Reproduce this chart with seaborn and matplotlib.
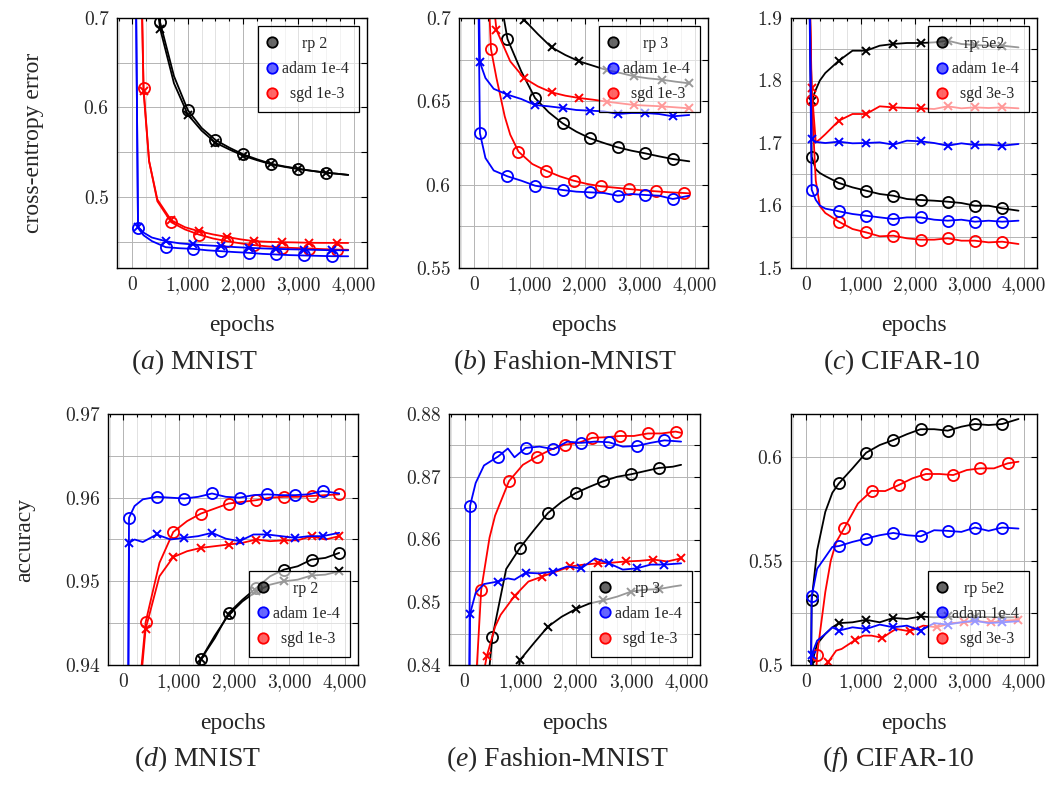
import matplotlib
matplotlib.use('Agg')
import matplotlib.pyplot as plt
from matplotlib.lines import Line2D
from matplotlib.colors import to_rgba
from matplotlib.ticker import MultipleLocator
import seaborn as sns

# circles = training curve, crosses = test curve (one pair per optimiser)

# ---- (a) MNIST, cross-entropy error
a_rp_ep = [420, 500, 750, 1000, 1250, 1500, 1750, 2000, 2250, 2500, 2750, 3000, 3250, 3500, 3750, 3900]
a_rp_o = [0.73, 0.695, 0.635, 0.597, 0.577, 0.5636, 0.555, 0.5475, 0.542, 0.537, 0.534, 0.5314, 0.529, 0.527, 0.5255, 0.5245]
a_rp_x = [0.725, 0.688, 0.627, 0.592, 0.574, 0.5605, 0.553, 0.546, 0.541, 0.5365, 0.5335, 0.531, 0.529, 0.527, 0.5255, 0.5245]
a_adam_ep = [60, 100, 200, 350, 600, 850, 1100, 1350, 1600, 1850, 2100, 2350, 2600, 2850, 3100, 3350, 3600, 3900]
a_adam_o = [0.75, 0.4652, 0.457, 0.4505, 0.4437, 0.4425, 0.4418, 0.4402, 0.4392, 0.4382, 0.4374, 0.4362, 0.4355, 0.4348, 0.4344, 0.434, 0.4336, 0.4335]
a_adam_x = [0.75, 0.466, 0.46, 0.4545, 0.4504, 0.448, 0.4467, 0.4457, 0.4448, 0.4438, 0.443, 0.4423, 0.4418, 0.4413, 0.441, 0.4406, 0.4403, 0.4402]
a_sgd_ep = [150, 200, 300, 450, 700, 950, 1200, 1450, 1700, 1950, 2200, 2450, 2700, 2950, 3200, 3450, 3700, 3900]
a_sgd_o = [0.78, 0.622, 0.54, 0.495, 0.4716, 0.4635, 0.4578, 0.4535, 0.4504, 0.448, 0.446, 0.4445, 0.4433, 0.4427, 0.4422, 0.4415, 0.441, 0.4408]
a_sgd_x = [0.78, 0.618, 0.54, 0.497, 0.4738, 0.466, 0.4615, 0.458, 0.4552, 0.4525, 0.4504, 0.4497, 0.4493, 0.449, 0.4486, 0.4485, 0.4485, 0.4484]

# ---- (b) Fashion-MNIST, cross-entropy error
b_rp_o_ep = [480, 600, 850, 1100, 1350, 1600, 1850, 2100, 2350, 2600, 2850, 3100, 3350, 3600, 3900]
b_rp_o = [0.71, 0.6874, 0.668, 0.652, 0.6434, 0.6368, 0.6318, 0.6278, 0.625, 0.6224, 0.6204, 0.6188, 0.617, 0.6154, 0.614]
b_rp_x_ep = [800, 900, 1150, 1400, 1650, 1900, 2150, 2400, 2650, 2900, 3150, 3400, 3650, 3900]
b_rp_x = [0.71, 0.699, 0.6904, 0.6824, 0.6778, 0.674, 0.6714, 0.6688, 0.667, 0.665, 0.6638, 0.663, 0.6618, 0.6608]
b_adam_ep = [60, 100, 200, 350, 600, 850, 1100, 1350, 1600, 1850, 2100, 2350, 2600, 2850, 3100, 3350, 3600, 3900]
b_adam_o = [0.75, 0.6308, 0.616, 0.6085, 0.605, 0.6024, 0.5994, 0.598, 0.5968, 0.5958, 0.5954, 0.595, 0.5934, 0.5944, 0.5938, 0.5934, 0.5914, 0.5934]
b_adam_x = [0.76, 0.6734, 0.664, 0.6575, 0.654, 0.6514, 0.6478, 0.647, 0.646, 0.6448, 0.6444, 0.644, 0.6424, 0.643, 0.643, 0.6424, 0.641, 0.6418]
b_sgd_o_ep = [250, 300, 400, 550, 650, 800, 1050, 1300, 1550, 1800, 2050, 2300, 2550, 2800, 3050, 3300, 3550, 3800, 3900]
b_sgd_o = [0.72, 0.6814, 0.664, 0.641, 0.63, 0.6198, 0.6124, 0.6084, 0.605, 0.6024, 0.6004, 0.599, 0.5982, 0.5974, 0.5966, 0.596, 0.5954, 0.595, 0.5948]
b_sgd_x_ep = [330, 400, 650, 900, 1150, 1400, 1650, 1900, 2150, 2400, 2650, 2900, 3150, 3400, 3650, 3900]
b_sgd_x = [0.715, 0.6928, 0.674, 0.664, 0.659, 0.6554, 0.6534, 0.652, 0.651, 0.6498, 0.6488, 0.6478, 0.6474, 0.647, 0.6464, 0.6458]

# ---- (c) CIFAR-10, cross-entropy error
c_ep = [50, 100, 175, 250, 350, 600, 850, 1100, 1350, 1600, 1850, 2100, 2350, 2600, 2850, 3100, 3350, 3600, 3900]
c_rp_o = [2.0, 1.678, 1.658, 1.652, 1.647, 1.636, 1.629, 1.6237, 1.6184, 1.6157, 1.6104, 1.6088, 1.6077, 1.6061, 1.604, 1.5997, 1.5997, 1.5955, 1.5917]
c_rp_x = [2.0, 1.768, 1.785, 1.80, 1.812, 1.8317, 1.8477, 1.8477, 1.8557, 1.8584, 1.86, 1.86, 1.861, 1.8637, 1.8584, 1.8568, 1.8557, 1.8557, 1.853]
c_adam_o = [2.0, 1.6253, 1.609, 1.60, 1.595, 1.5907, 1.5864, 1.5837, 1.581, 1.5784, 1.581, 1.581, 1.5773, 1.5757, 1.5773, 1.5741, 1.5757, 1.5741, 1.5757]
c_adam_x = [2.0, 1.7064, 1.702, 1.701, 1.70, 1.7021, 1.6995, 1.70, 1.701, 1.6973, 1.7037, 1.7027, 1.70, 1.6957, 1.6995, 1.6968, 1.6973, 1.6957, 1.6984]
c_sgd_o = [2.0, 1.7688, 1.64, 1.599, 1.588, 1.5741, 1.5624, 1.557, 1.5507, 1.5517, 1.5475, 1.5453, 1.5453, 1.5475, 1.5437, 1.5437, 1.541, 1.5421, 1.5384]
c_sgd_x = [2.0, 1.7875, 1.701, 1.706, 1.714, 1.7357, 1.7464, 1.7464, 1.7587, 1.757, 1.756, 1.7555, 1.7544, 1.7587, 1.7555, 1.757, 1.756, 1.757, 1.7555]

# ---- (d) MNIST, accuracy
d_rp_ep = [1350, 1400, 1650, 1900, 2150, 2400, 2650, 2900, 3150, 3400, 3650, 3900]
d_rp_o = [0.9395, 0.9407, 0.9432, 0.9462, 0.9478, 0.9492, 0.9506, 0.9514, 0.9518, 0.9526, 0.9528, 0.9534]
d_rp_x = [0.9395, 0.9407, 0.9435, 0.946, 0.9476, 0.9488, 0.9496, 0.95, 0.9502, 0.9507, 0.9508, 0.9512]
d_adam_ep = [85, 100, 200, 350, 600, 850, 1100, 1350, 1600, 1850, 2100, 2350, 2600, 2850, 3100, 3350, 3600, 3900]
d_adam_o = [0.935, 0.9576, 0.959, 0.9598, 0.9601, 0.96, 0.9599, 0.9601, 0.9605, 0.9601, 0.96, 0.9603, 0.9604, 0.9603, 0.9603, 0.9604, 0.9608, 0.9605]
d_adam_x = [0.935, 0.9546, 0.955, 0.9547, 0.9556, 0.955, 0.9552, 0.9554, 0.9558, 0.9551, 0.9548, 0.9556, 0.9556, 0.9554, 0.9552, 0.9554, 0.9554, 0.9558]
d_sgd_ep = [300, 400, 650, 900, 1150, 1400, 1650, 1900, 2150, 2400, 2650, 2900, 3150, 3400, 3650, 3900]
d_sgd_o = [0.938, 0.9451, 0.9522, 0.9559, 0.9572, 0.9581, 0.9587, 0.9593, 0.9595, 0.9597, 0.96, 0.9601, 0.9601, 0.9602, 0.9603, 0.9604]
d_sgd_x = [0.937, 0.9443, 0.9506, 0.9529, 0.9536, 0.954, 0.9542, 0.9544, 0.9546, 0.955, 0.9548, 0.9549, 0.9549, 0.9554, 0.955, 0.9554]

# ---- (e) Fashion-MNIST, accuracy
e_rp_o_ep = [430, 500, 750, 1000, 1250, 1500, 1750, 2000, 2250, 2500, 2750, 3000, 3250, 3500, 3750, 3900]
e_rp_o = [0.838, 0.8444, 0.8553, 0.8587, 0.8615, 0.8642, 0.866, 0.8674, 0.8684, 0.8693, 0.87, 0.8704, 0.8709, 0.8714, 0.8716, 0.8719]
e_rp_x_ep = [960, 1000, 1250, 1500, 1750, 2000, 2250, 2500, 2750, 3000, 3250, 3500, 3750, 3900]
e_rp_x = [0.839, 0.8408, 0.8435, 0.8461, 0.8477, 0.8489, 0.8498, 0.8503, 0.8509, 0.8517, 0.852, 0.8521, 0.8525, 0.8527]
e_adam_ep = [85, 100, 200, 350, 600, 780, 900, 1100, 1350, 1600, 1850, 2100, 2350, 2600, 2850, 3100, 3350, 3600, 3900]
e_adam_o = [0.835, 0.8654, 0.869, 0.8718, 0.8732, 0.8745, 0.8731, 0.8746, 0.8748, 0.8744, 0.8756, 0.8754, 0.8756, 0.8755, 0.8748, 0.8749, 0.8754, 0.8758, 0.8756]
e_adam_x = [0.835, 0.8482, 0.8515, 0.8529, 0.8533, 0.8538, 0.8536, 0.8547, 0.8546, 0.8549, 0.8557, 0.8554, 0.857, 0.8562, 0.8552, 0.8554, 0.856, 0.856, 0.8562]
e_sgd_o_ep = [210, 300, 450, 550, 800, 1050, 1300, 1550, 1800, 2050, 2300, 2550, 2800, 3050, 3300, 3550, 3800, 3900]
e_sgd_o = [0.838, 0.852, 0.8603, 0.8638, 0.8693, 0.8719, 0.8732, 0.8743, 0.8751, 0.8754, 0.8762, 0.8763, 0.8765, 0.8765, 0.8769, 0.8769, 0.8772, 0.877]
e_sgd_x_ep = [340, 400, 550, 650, 900, 1150, 1400, 1650, 1900, 2150, 2400, 2650, 2900, 3150, 3400, 3650, 3900]
e_sgd_x = [0.8385, 0.8414, 0.8461, 0.848, 0.851, 0.8533, 0.8541, 0.8549, 0.8557, 0.856, 0.8562, 0.8563, 0.8565, 0.8566, 0.8568, 0.8565, 0.857]

# ---- (f) CIFAR-10, accuracy
f_ep = [85, 100, 200, 350, 480, 600, 850, 1100, 1350, 1600, 1850, 2100, 2350, 2600, 2850, 3100, 3350, 3600, 3900]
f_rp_o = [0.49, 0.5313, 0.555, 0.5735, 0.5827, 0.5872, 0.5944, 0.6019, 0.6056, 0.608, 0.6108, 0.6132, 0.6132, 0.6125, 0.6144, 0.6157, 0.6152, 0.6157, 0.6181]
f_rp_x = [0.49, 0.5005, 0.5101, 0.5149, 0.5181, 0.5201, 0.5205, 0.5217, 0.5205, 0.5226, 0.5221, 0.5233, 0.5229, 0.5233, 0.5229, 0.5231, 0.523, 0.5229, 0.5229]
f_adam_o = [0.49, 0.5329, 0.5462, 0.5518, 0.5567, 0.5571, 0.5591, 0.5607, 0.5623, 0.5634, 0.5623, 0.5618, 0.5647, 0.5644, 0.5639, 0.566, 0.5644, 0.566, 0.5655]
f_adam_x = [0.49, 0.505, 0.5117, 0.5149, 0.5181, 0.5165, 0.5181, 0.5173, 0.5194, 0.5181, 0.5189, 0.5165, 0.5201, 0.5194, 0.5205, 0.5213, 0.5201, 0.5205, 0.521]
f_sgd_o_ep = [170, 200, 350, 450, 550, 700, 950, 1200, 1450, 1700, 1950, 2200, 2450, 2700, 2950, 3200, 3450, 3700, 3900]
f_sgd_o = [0.49, 0.505, 0.535, 0.55, 0.559, 0.5658, 0.5775, 0.5836, 0.5835, 0.5864, 0.5896, 0.5917, 0.5917, 0.5912, 0.5936, 0.5944, 0.5944, 0.5968, 0.5976]
f_sgd_x_ep = [350, 400, 550, 650, 900, 1050, 1200, 1400, 1550, 1650, 1900, 2150, 2400, 2650, 2900, 3150, 3400, 3650, 3900]
f_sgd_x = [0.497, 0.5013, 0.5069, 0.5077, 0.512, 0.5141, 0.5141, 0.513, 0.5157, 0.5173, 0.5162, 0.5189, 0.5181, 0.5201, 0.5205, 0.521, 0.5205, 0.5213, 0.5217]

x_ticklabels = ['0', '1,000', '2,000', '3,000', '4,000']
a_yticklabels = ['0.5', '0.6', '0.7']
b_yticklabels = ['0.55', '0.6', '0.65', '0.7']
c_yticklabels = ['1.5', '1.6', '1.7', '1.8', '1.9']
d_yticklabels = ['0.94', '0.95', '0.96', '0.97']
e_yticklabels = ['0.84', '0.85', '0.86', '0.87', '0.88']
f_yticklabels = ['0.5', '0.55', '0.6']

captions = ['MNIST', 'Fashion-MNIST', 'CIFAR-10', 'MNIST', 'Fashion-MNIST', 'CIFAR-10']
letters = ['a', 'b', 'c', 'd', 'e', 'f']
legend_labels = [
    ['rp 2', 'adam 1e-4', 'sgd 1e-3'],
    ['rp 3', 'adam 1e-4', 'sgd 1e-3'],
    ['rp 5e2', 'adam 1e-4', 'sgd 3e-3'],
    ['rp 2', 'adam 1e-4', 'sgd 1e-3'],
    ['rp 3', 'adam 1e-4', 'sgd 1e-3'],
    ['rp 5e2', 'adam 1e-4', 'sgd 3e-3'],
]

COL = {'rp': 'black', 'adam': 'blue', 'sgd': 'red'}

# (epochs, values, optimiser, marker, marker phase mod 500)
panels = [
    dict(series=[(a_rp_ep, a_rp_x, 'rp', 'x', 0), (a_rp_ep, a_rp_o, 'rp', 'o', 0),
                 (a_sgd_ep, a_sgd_x, 'sgd', 'x', 200), (a_sgd_ep, a_sgd_o, 'sgd', 'o', 200),
                 (a_adam_ep, a_adam_x, 'adam', 'x', 100), (a_adam_ep, a_adam_o, 'adam', 'o', 100)],
         ylim=(0.4204, 0.7), ylab=a_yticklabels, step=0.05, loc='upper right'),
    dict(series=[(b_rp_x_ep, b_rp_x, 'rp', 'x', 400), (b_rp_o_ep, b_rp_o, 'rp', 'o', 100),
                 (b_sgd_x_ep, b_sgd_x, 'sgd', 'x', 400), (b_sgd_o_ep, b_sgd_o, 'sgd', 'o', 300),
                 (b_adam_ep, b_adam_x, 'adam', 'x', 100), (b_adam_ep, b_adam_o, 'adam', 'o', 100)],
         ylim=(0.55, 0.7), ylab=b_yticklabels, step=0.025, loc='upper right'),
    dict(series=[(c_ep, c_rp_x, 'rp', 'x', 100), (c_ep, c_rp_o, 'rp', 'o', 100),
                 (c_ep, c_sgd_x, 'sgd', 'x', 100), (c_ep, c_sgd_o, 'sgd', 'o', 100),
                 (c_ep, c_adam_x, 'adam', 'x', 100), (c_ep, c_adam_o, 'adam', 'o', 100)],
         ylim=(1.5, 1.9), ylab=c_yticklabels, step=0.05, loc='upper right'),
    dict(series=[(d_rp_ep, d_rp_x, 'rp', 'x', 400), (d_rp_ep, d_rp_o, 'rp', 'o', 400),
                 (d_sgd_ep, d_sgd_x, 'sgd', 'x', 400), (d_sgd_ep, d_sgd_o, 'sgd', 'o', 400),
                 (d_adam_ep, d_adam_x, 'adam', 'x', 100), (d_adam_ep, d_adam_o, 'adam', 'o', 100)],
         ylim=(0.94, 0.97), ylab=d_yticklabels, step=0.005, loc='lower right'),
    dict(series=[(e_rp_x_ep, e_rp_x, 'rp', 'x', 0), (e_rp_o_ep, e_rp_o, 'rp', 'o', 0),
                 (e_sgd_x_ep, e_sgd_x, 'sgd', 'x', 400), (e_sgd_o_ep, e_sgd_o, 'sgd', 'o', 300),
                 (e_adam_ep, e_adam_x, 'adam', 'x', 100), (e_adam_ep, e_adam_o, 'adam', 'o', 100)],
         ylim=(0.84, 0.88), ylab=e_yticklabels, step=0.005, loc='lower right'),
    dict(series=[(f_ep, f_rp_x, 'rp', 'x', 100), (f_ep, f_rp_o, 'rp', 'o', 100),
                 (f_sgd_x_ep, f_sgd_x, 'sgd', 'x', 400), (f_sgd_o_ep, f_sgd_o, 'sgd', 'o', 200),
                 (f_ep, f_adam_x, 'adam', 'x', 100), (f_ep, f_adam_o, 'adam', 'o', 100)],
         ylim=(0.5, 0.6205), ylab=f_yticklabels, step=0.025, loc='lower right'),
]

# axes boxes in pixels (left, top, right, bottom) of a 1050x788 canvas
boxes = [(117, 18, 367, 268), (459, 18, 708, 268), (791, 18, 1037, 268),
         (108, 414, 358, 665), (449, 414, 700, 665), (791, 414, 1037, 665)]
caption_xy = [(195, 362), (565, 362), (902, 362), (198, 759), (557, 759), (898, 759)]

sns.set_style('white')
plt.rcParams['font.family'] = ['Liberation Serif', 'DejaVu Serif']
plt.rcParams['mathtext.fontset'] = 'custom'
plt.rcParams['mathtext.rm'] = 'Liberation Serif'
plt.rcParams['mathtext.it'] = 'Liberation Serif:italic'

W, H = 1050, 788
fig = plt.figure(figsize=(W / 100, H / 100), dpi=100)
renderer = fig.canvas.get_renderer()


def centred(labels, size):
    # pad shorter legend entries with spaces so that they sit centred
    def width(s):
        t = fig.text(0, 0, s, fontsize=size)
        w = t.get_window_extent(renderer).width
        t.remove()
        return w
    space = width('a a') - width('aa')
    wmax = max(width(s) for s in labels)
    return [' ' * int(round((wmax - width(s)) / 2 / space)) + s for s in labels]


for i, (p, (l, t, r, b)) in enumerate(zip(panels, boxes)):
    ax = fig.add_axes([l / W, 1 - b / H, (r - l) / W, (b - t) / H])
    for ep, vals, opt, m, phase in p['series']:
        c = COL[opt]
        marks = [k for k, e in enumerate(ep) if e % 500 == phase]
        if m == 'o':
            mk = dict(marker='o', ms=8, mfc='none', mec=c, mew=1.3)
        else:
            mk = dict(marker='x', ms=6, mec=c, mew=1.4)
        sns.lineplot(x=ep, y=vals, ax=ax, color=c, lw=1.3, sort=False,
                     errorbar=None, legend=False, markevery=marks, **mk)

    ax.set_xlim(-280, 4240)
    ax.set_ylim(*p['ylim'])
    ax.set_xticks([float(s.replace(',', '')) for s in x_ticklabels], x_ticklabels,
                  fontfamily='cmr10', fontsize=14)
    ax.set_yticks([float(s) for s in p['ylab']], p['ylab'], fontfamily='cmr10', fontsize=14)
    ax.xaxis.set_minor_locator(MultipleLocator(250))
    ax.yaxis.set_minor_locator(MultipleLocator(p['step']))
    ax.grid(which='major', color='#b4b4b4', lw=0.7)
    ax.grid(which='minor', axis='x', color='#e2e2e2', lw=0.7)
    ax.grid(which='minor', axis='y', color='#b4b4b4', lw=0.7)
    ax.set_axisbelow(True)
    ax.tick_params(which='both', direction='in', top=True, right=True, color='black',
                   width=0.8)
    ax.tick_params(which='major', length=4, pad=6)
    ax.tick_params(axis='x', which='minor', length=2.5)
    ax.tick_params(axis='y', which='minor', length=4)
    for s in ax.spines.values():
        s.set_color('black')
        s.set_linewidth(1.0)

    ax.set_xlabel('epochs', fontsize=17)
    ax.xaxis.set_label_coords(0.5, -0.19)
    if i == 0:
        ax.set_ylabel('cross-entropy error', fontsize=17)
        ax.yaxis.set_label_coords(-0.29, 0.5)
    elif i == 3:
        ax.set_ylabel('accuracy', fontsize=17)
        ax.yaxis.set_label_coords(-0.29, 0.5)
    else:
        ax.set_ylabel('')

    handles = [Line2D([], [], ls='none', marker='o', ms=7.5, mec=COL[o],
                      mfc=to_rgba(COL[o], 0.6), mew=1.3) for o in ['rp', 'adam', 'sgd']]
    leg = ax.legend(handles, centred(legend_labels[i], 11.5), loc=p['loc'], fontsize=11.5,
                    frameon=True, fancybox=False, handlelength=0.5, handletextpad=0.4,
                    borderpad=0.62, labelspacing=0.58, borderaxespad=0.5)
    frame = leg.get_frame()
    frame.set_alpha(None)
    frame.set_facecolor((1, 1, 1, 0.6))
    frame.set_edgecolor('black')
    frame.set_linewidth(0.9)

    cx, cy = caption_xy[i]
    fig.text(cx / W, 1 - cy / H, f'$({letters[i]})$ {captions[i]}', fontsize=20,
             ha='center', va='center')

fig.savefig('out.png', dpi=100)
